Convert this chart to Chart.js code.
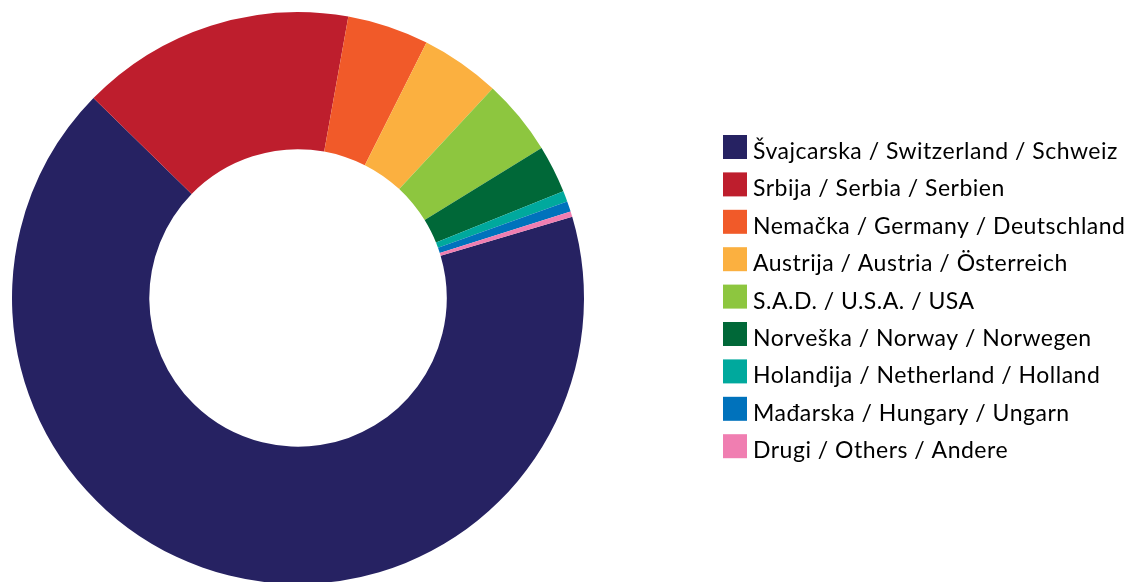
<!DOCTYPE html>
<html>
<head>
<meta charset="utf-8">
<script src="https://cdn.jsdelivr.net/npm/chart.js@4.4.0/dist/chart.umd.min.js"></script>
<style>
  html, body { margin: 0; padding: 0; background: #fff; overflow: hidden; }
  #wrap { width: 1135px; height: 596px; }
</style>
</head>
<body>
<div id="wrap"><canvas id="chart" width="1135" height="596"></canvas></div>
<script>
    // Share of visitors by country (percent)
    const countries = [
        'Švajcarska / Switzerland / Schweiz',
        'Srbija / Serbia / Serbien',
        'Nemačka / Germany / Deutschland',
        'Austrija / Austria / Österreich',
        'S.A.D. / U.S.A. / USA',
        'Norveška / Norway / Norwegen',
        'Holandija / Netherland / Holland',
        'Mađarska / Hungary / Ungarn',
        'Drugi / Others / Andere'
    ];
    const shares = [66.9, 15.5, 4.6, 4.5, 4.3, 2.7, 0.6, 0.6, 0.3];
    const colors = [
        '#262262', '#BE1E2D', '#F15A29', '#FBB040', '#8DC63F',
        '#006838', '#00A99D', '#0072BC', '#F07EB1'
    ];

    /**
     * Draw the legend to the right of the ring
     */
    const sideLegend = {
        id: 'sideLegend',
        afterDraw(chart) {
            const ctx = chart.ctx;
            const x = 723, top = 135, box = 24, step = 37.4;
            ctx.save();
            ctx.font = '23px Lato';
            ctx.letterSpacing = '0.5px';
            ctx.textBaseline = 'alphabetic';
            chart.data.labels.forEach((label, i) => {
                const y = top + i * step;
                ctx.fillStyle = chart.data.datasets[0].backgroundColor[i];
                ctx.fillRect(x, y, box, box);
                ctx.fillStyle = '#000';
                ctx.fillText(label, x + box + 6, y + box);
            });
            ctx.restore();
        }
    };

    new Chart(document.getElementById('chart').getContext('2d'), {
        type: 'doughnut',
        data: {
            labels: countries,
            datasets: [{
                data: shares,
                backgroundColor: colors,
                borderWidth: 0
            }]
        },
        options: {
            responsive: false,
            animation: false,
            rotation: 73.5,
            cutout: '52%',
            layout: {
                padding: { left: 12, top: 12, right: 551, bottom: 12 }
            },
            plugins: {
                legend: { display: false },
                tooltip: { enabled: false }
            }
        },
        plugins: [sideLegend]
    });
</script>
</body>
</html>
